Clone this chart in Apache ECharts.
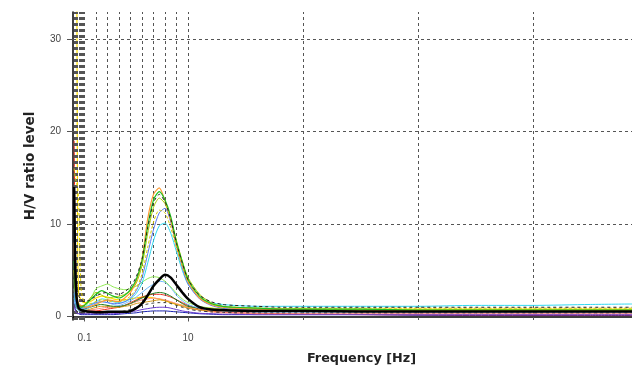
<!DOCTYPE html>
<html>
<head>
<meta charset="utf-8">
<script src="https://cdn.jsdelivr.net/npm/echarts@6/dist/echarts.min.js"></script>
<style>
  html, body {margin: 0; padding: 0; background: #fff;}
  #chart {width: 632px; height: 374px;}
</style>
</head>
<body>
<div id="chart"></div>
<script>
// frequency samples (Hz), linear axis
const freq = [0.1, 0.2, 0.3, 0.4, 0.5, 0.7, 1, 1.5, 2, 2.5, 3, 3.5, 4, 4.5, 5, 5.5, 6, 6.5, 7, 7.5,
  8, 8.5, 9, 9.5, 10, 11, 12, 13, 14, 16, 18, 20, 25, 30, 35, 40, 45, 48.6];

// H/V ratio curves
const hvOrange = [8, 4, 2.5, 1.8, 1.4, 1.2, 1.0, 1.1, 1.3, 1.6, 1.8, 1.7, 1.6, 2.0, 2.6, 3.8, 6.2, 10.6, 13.2, 13.9,
  12.5, 10.4, 7.7, 5.6, 3.8, 2.0, 1.3, 1.0, 0.9, 0.8, 0.8, 0.7, 0.7, 0.6, 0.6, 0.6, 0.6, 0.6];
const hvGreen = [6, 3, 2.0, 1.5, 1.2, 1.0, 1.2, 1.8, 2.4, 2.8, 2.5, 2.2, 2.0, 2.3, 2.9, 4.0, 6.0, 9.8, 12.6, 13.5,
  12.6, 10.8, 8.0, 5.9, 4.0, 2.2, 1.4, 1.1, 1.0, 0.9, 0.8, 0.8, 0.8, 0.7, 0.7, 0.7, 0.7, 0.7];
const hvMeanPlus = [12, 7, 4, 2.8, 2.2, 1.8, 1.6, 1.8, 2.2, 2.5, 2.6, 2.5, 2.4, 2.7, 3.2, 4.3, 6.2, 9.6, 12.3, 13.2,
  12.4, 10.5, 7.9, 5.8, 4.0, 2.3, 1.6, 1.3, 1.2, 1.1, 1.0, 1.0, 1.0, 1.0, 1.0, 1.0, 1.0, 1.0];
const hvOlive = [5, 2.5, 1.8, 1.4, 1.2, 1.1, 1.3, 2.0, 2.6, 2.3, 2.0, 2.1, 2.2, 2.4, 2.8, 3.6, 5.5, 9.0, 11.8, 12.8,
  12.2, 10.5, 8.2, 6.0, 4.2, 2.4, 1.5, 1.1, 1.0, 0.9, 0.8, 0.8, 0.7, 0.7, 0.7, 0.7, 0.7, 0.7];
const hvBlue = [3, 1.8, 1.3, 1.1, 1.0, 0.9, 0.9, 1.2, 1.5, 1.6, 1.5, 1.4, 1.4, 1.6, 2.0, 2.8, 4.2, 6.8, 9.4, 11.2,
  11.7, 10.2, 7.6, 5.3, 3.5, 1.9, 1.2, 0.9, 0.8, 0.7, 0.6, 0.6, 0.6, 0.5, 0.5, 0.5, 0.5, 0.5];
const hvCyan = [2.5, 1.6, 1.2, 1.0, 0.9, 0.9, 1.0, 1.3, 1.6, 1.9, 1.8, 1.6, 1.5, 1.6, 1.9, 2.5, 3.6, 5.8, 8.2, 9.8,
  10.1, 9.0, 7.0, 5.0, 3.5, 2.0, 1.5, 1.3, 1.2, 1.1, 1.1, 1.1, 1.1, 1.1, 1.2, 1.2, 1.3, 1.35];
const hvLightGreen = [4, 2, 1.5, 1.2, 1.0, 0.9, 1.0, 1.8, 3.0, 3.3, 3.5, 3.2, 3.0, 2.9, 3.0, 3.3, 3.7, 4.1, 4.3, 4.2,
  3.8, 3.2, 2.5, 1.9, 1.5, 1.1, 0.9, 0.8, 0.8, 0.7, 0.7, 0.7, 0.7, 0.6, 0.6, 0.6, 0.6, 0.6];
const hvSky = [2, 1.2, 0.9, 0.7, 0.6, 0.6, 0.7, 1.0, 1.4, 1.6, 1.5, 1.3, 1.2, 1.4, 1.7, 2.1, 2.6, 3.1, 3.5, 3.8,
  3.7, 3.1, 2.3, 1.7, 1.3, 0.9, 0.7, 0.6, 0.6, 0.5, 0.5, 0.5, 0.5, 0.5, 0.5, 0.5, 0.5, 0.5];
const hvRed = [19, 6, 2.5, 1.4, 0.9, 0.7, 0.6, 0.6, 0.6, 0.7, 0.8, 0.9, 1.0, 1.2, 1.5, 1.8, 2.1, 2.3, 2.4, 2.4,
  2.3, 2.1, 1.8, 1.5, 1.2, 0.8, 0.6, 0.5, 0.4, 0.35, 0.3, 0.25, 0.2, 0.15, 0.1, 0.1, 0.1, 0.1];
const hvSalmon = [3, 1.5, 1.0, 0.8, 0.7, 0.6, 0.6, 0.7, 0.8, 0.9, 1.0, 1.0, 1.1, 1.2, 1.4, 1.6, 1.8, 1.9, 2.0, 1.9,
  1.8, 1.6, 1.4, 1.2, 1.0, 0.7, 0.5, 0.4, 0.4, 0.3, 0.3, 0.3, 0.3, 0.3, 0.3, 0.3, 0.3, 0.3];
const hvAmber = [5, 2.5, 1.5, 1.0, 0.8, 0.7, 0.7, 0.8, 1.0, 1.1, 1.1, 1.0, 1.0, 1.1, 1.2, 1.4, 1.5, 1.6, 1.7, 1.8,
  1.7, 1.5, 1.3, 1.1, 0.9, 0.7, 0.6, 0.6, 0.6, 0.6, 0.6, 0.6, 0.6, 0.6, 0.6, 0.6, 0.6, 0.6];
const hvMeanMinus = [2, 1.0, 0.6, 0.5, 0.4, 0.4, 0.4, 0.4, 0.4, 0.4, 0.4, 0.45, 0.5, 0.6, 0.8, 1.0, 1.2, 1.35, 1.45, 1.5,
  1.5, 1.4, 1.2, 1.0, 0.8, 0.6, 0.5, 0.45, 0.4, 0.4, 0.4, 0.4, 0.4, 0.4, 0.4, 0.4, 0.4, 0.4];
const hvPurple = [1.2, 0.6, 0.4, 0.3, 0.3, 0.3, 0.3, 0.3, 0.3, 0.3, 0.3, 0.3, 0.35, 0.4, 0.5, 0.6, 0.75, 0.85, 0.95, 1.0,
  1.0, 0.9, 0.75, 0.6, 0.5, 0.35, 0.3, 0.25, 0.25, 0.2, 0.2, 0.2, 0.2, 0.2, 0.2, 0.2, 0.2, 0.2];
const hvNavy = [1.5, 0.8, 0.5, 0.4, 0.3, 0.2, 0.2, 0.2, 0.2, 0.2, 0.2, 0.2, 0.25, 0.3, 0.35, 0.4, 0.5, 0.55, 0.6, 0.6,
  0.6, 0.55, 0.5, 0.45, 0.4, 0.3, 0.25, 0.2, 0.2, 0.2, 0.2, 0.2, 0.2, 0.15, 0.15, 0.15, 0.15, 0.15];
const hvDarkGreen = [3, 1.5, 1.0, 0.8, 0.7, 0.7, 0.8, 1.0, 1.2, 1.3, 1.2, 1.1, 1.1, 1.2, 1.4, 1.7, 2.0, 2.3, 2.5, 2.6,
  2.5, 2.2, 1.8, 1.4, 1.1, 0.9, 0.8, 0.7, 0.7, 0.7, 0.7, 0.7, 0.7, 0.65, 0.65, 0.65, 0.65, 0.65];
const hvGold = [16, 15, 14.5, 14, 12, 3, 1.5, 1.4, 1.6, 1.8, 1.7, 1.6, 1.6, 1.8, 2.2, 3.0, 4.6, 7.5, 10.2, 11.5,
  11.2, 9.6, 7.4, 5.4, 3.7, 2.1, 1.4, 1.1, 1.0, 0.9, 0.9, 0.9, 0.9, 0.9, 0.9, 0.9, 0.9, 0.9];
const hvYellow = [45, 60, 50, 8, 2.5, 1.8, 1.5, 1.6, 2.0, 2.2, 2.1, 1.9, 1.8, 1.8, 1.9, 2.0, 2.1, 2.1, 2.0, 1.9,
  1.7, 1.5, 1.3, 1.2, 1.0, 0.9, 0.9, 0.8, 0.8, 0.8, 0.8, 0.8, 0.8, 0.8, 0.8, 0.8, 0.8, 0.8];
const hvMean = [14, 5, 2.2, 1.3, 0.9, 0.7, 0.6, 0.5, 0.45, 0.45, 0.5, 0.5, 0.5, 0.5, 0.6, 0.9, 1.4, 2.3, 3.3, 4.0,
  4.5, 4.2, 3.4, 2.6, 1.9, 1.0, 0.75, 0.7, 0.65, 0.6, 0.6, 0.6, 0.55, 0.55, 0.55, 0.55, 0.55, 0.55];

// grid / tick values
const xGridValues = [0.1, 0.2, 0.3, 0.4, 0.5, 0.6, 0.7, 0.8, 0.9, 1, 2, 3, 4, 5, 6, 7, 8, 9, 10, 20, 30, 40];
const yGridValues = [10, 20, 30];
const xTickValues = [1, 10];
const xTickLabels = ['0.1', '10'];
const yTickValues = [0, 10, 20, 30];

const curves = [
  {data: hvYellow, color: '#ffe000', width: 1.2},
  {data: hvRed, color: '#ee2a1a', width: 1},
  {data: hvNavy, color: '#1a22b0', width: 1},
  {data: hvPurple, color: '#6a3cd0', width: 1},
  {data: hvSalmon, color: '#ff8a80', width: 1},
  {data: hvAmber, color: '#d79a1c', width: 1},
  {data: hvDarkGreen, color: '#1c7a1c', width: 1},
  {data: hvMeanMinus, color: '#333', width: 1, dash: [3, 3]},
  {data: hvSky, color: '#6bb8ff', width: 1},
  {data: hvLightGreen, color: '#8ee850', width: 1},
  {data: hvCyan, color: '#30d8f0', width: 1},
  {data: hvBlue, color: '#5a78ee', width: 1},
  {data: hvGold, color: '#d8c800', width: 1, dash: [3, 2]},
  {data: hvOlive, color: '#a8c800', width: 1},
  {data: hvOrange, color: '#ff9a30', width: 1.2},
  {data: hvGreen, color: '#20c020', width: 1.2},
  {data: hvMeanPlus, color: '#222', width: 1, dash: [3, 3]},
  {data: hvMean, color: '#000', width: 2.5}
];

const chart = echarts.init(document.getElementById('chart'));
const font = '"DejaVu Sans", Verdana, sans-serif';

const series = [{
  type: 'line',
  data: [],
  silent: true,
  z: 0,
  markLine: {
    silent: true,
    symbol: 'none',
    animation: false,
    label: {show: false},
    lineStyle: {color: '#555', type: [3, 3], width: 1},
    data: xGridValues.map(v => ({xAxis: v})).concat(yGridValues.map(v => ({yAxis: v})))
  }
}];
curves.forEach((c, i) => {
  series.push({
    type: 'line',
    data: freq.map((f, k) => [f, c.data[k]]),
    showSymbol: false,
    smooth: 0.25,
    animation: false,
    z: 2 + i,
    lineStyle: {color: c.color, width: c.width, type: c.dash || 'solid'}
  });
});

chart.setOption({
  animation: false,
  grid: {left: 73, right: 0, top: 12, bottom: 54},
  xAxis: {
    type: 'value',
    min: 0,
    max: 48.6,
    name: 'Frequency [Hz]',
    nameLocation: 'middle',
    nameGap: 32,
    nameTextStyle: {fontFamily: font, fontWeight: 'bold', fontSize: 12.8, color: '#222', padding: [0, 0, 0, 18]},
    axisLine: {lineStyle: {color: '#000', width: 1.5}},
    axisTick: {show: true, customValues: xTickValues, length: 5, lineStyle: {color: '#555'}},
    axisLabel: {
      customValues: xTickValues,
      formatter: v => xTickLabels[xTickValues.indexOf(v)],
      fontFamily: '"Liberation Sans", Arial, sans-serif',
      fontSize: 10,
      color: '#444',
      margin: 13
    },
    splitLine: {show: false}
  },
  yAxis: {
    type: 'value',
    min: -0.38,
    max: 32.92,
    name: 'H/V ratio level',
    nameLocation: 'middle',
    nameGap: 36,
    nameRotate: 90,
    nameTextStyle: {fontFamily: font, fontWeight: 'bold', fontSize: 13.5, color: '#222'},
    axisLine: {show: true, lineStyle: {color: '#000', width: 1.5}},
    axisTick: {show: true, customValues: yTickValues, length: 6, lineStyle: {color: '#555'}},
    axisLabel: {
      customValues: yTickValues,
      fontFamily: '"Liberation Sans", Arial, sans-serif',
      fontSize: 10,
      color: '#444',
      margin: 12
    },
    splitLine: {show: false}
  },
  series: series
});
</script>
</body>
</html>
